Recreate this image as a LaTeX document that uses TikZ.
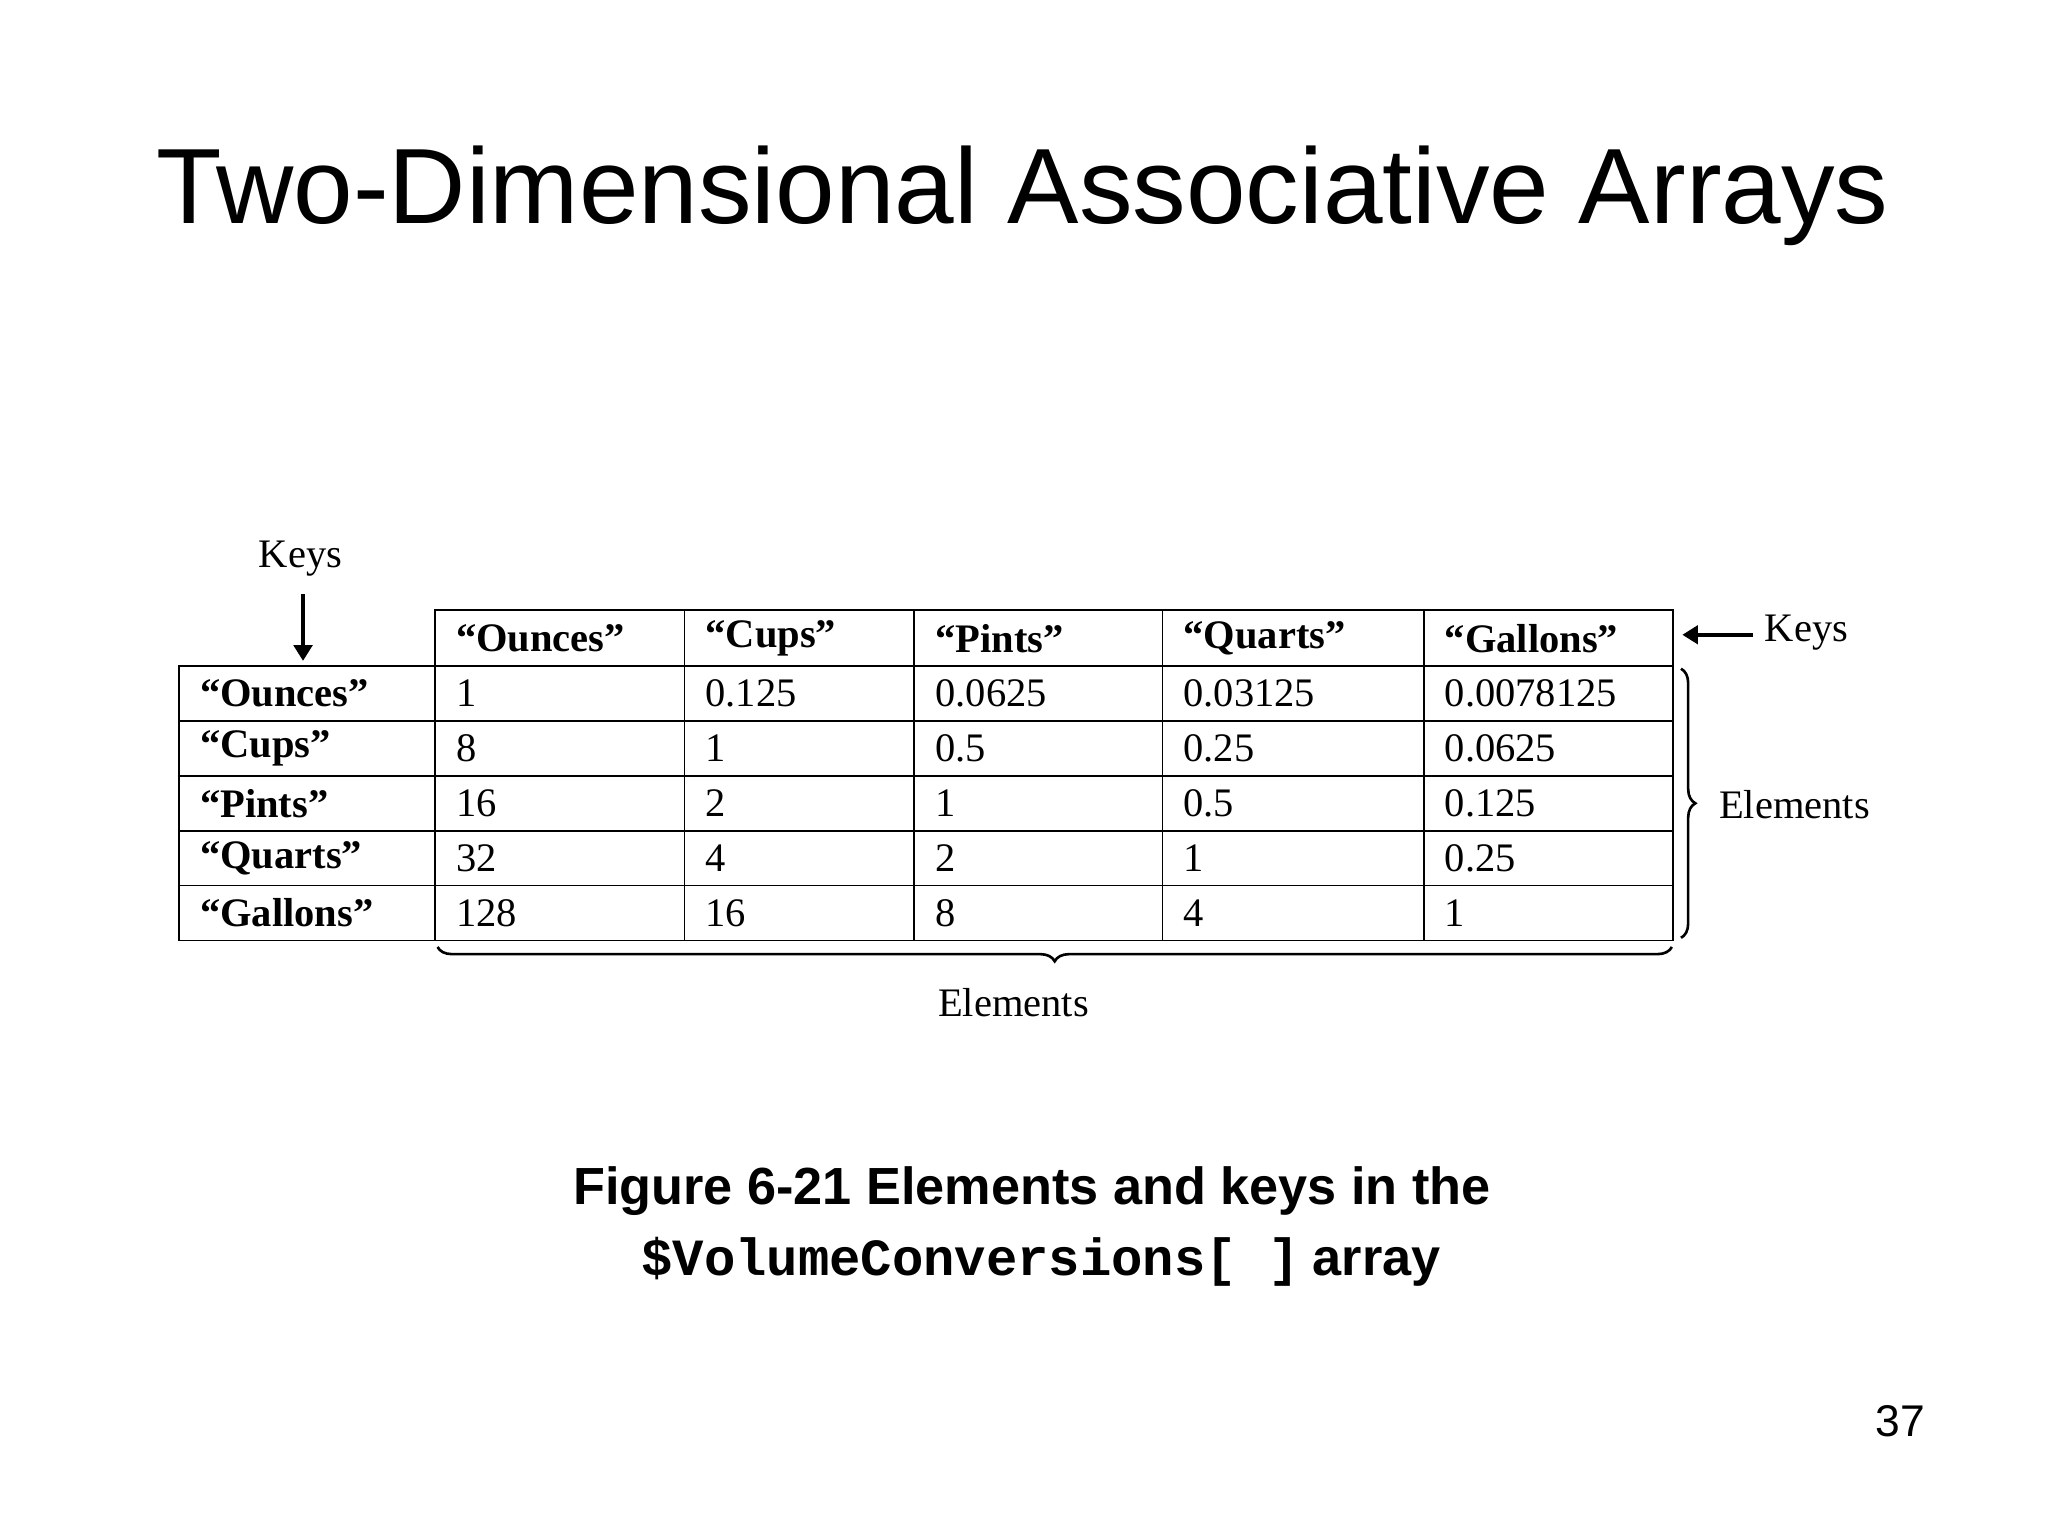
\documentclass[tikz,border=0pt]{standalone}
\usepackage{fontspec}
\setmainfont{Liberation Serif}
\newfontfamily\arialf{Liberation Sans}
\newfontfamily\courf{Liberation Mono}
\usetikzlibrary{decorations.pathreplacing,arrows.meta}
\begin{document}
\begin{tikzpicture}[x=1pt,y=-1pt,
  cell/.style={anchor=west,inner sep=0pt,font=\fontsize{31}{31}\selectfont},
  hcell/.style={cell,font=\fontsize{31}{31}\selectfont\bfseries},
  grid/.style={line width=1.3pt},
  arr/.style={line width=3pt,-{Triangle[length=12pt,width=14pt]}},
  br/.style={line width=2pt,decorate,decoration={brace,amplitude=11pt}},
  lbl/.style={inner sep=0pt,font=\fontsize{31}{31}\selectfont}]
\useasboundingbox (0,0) rectangle (1568,1176);
\node[font=\arialf\fontsize{82}{82}\selectfont] (title) at (783,150) {Two-Dimensional Associative Arrays};
% grid
\draw[grid] (333,467) rectangle (1281,720);
\draw[grid] (137,510) rectangle (333,720);
\foreach \y in {510,552,594,636,678} \draw[grid] (137,\y) -- (1281,\y);
\foreach \x in {524,700,890,1090} \draw[grid] (\x,467) -- (\x,720);
% header
\foreach \t [count=\i] / \x in {“Ounces”/349,“Cups”/540,“Pints”/716,“Quarts”/906,“Gallons”/1106}
  \node[hcell] (h\i) at (\x,489) {\t};
% row keys
\foreach \t [count=\i] in {“Ounces”,“Cups”,“Pints”,“Quarts”,“Gallons”}
  \node[hcell] (k\i) at (153,510+42*\i-21) {\t};
% values
\foreach \r [count=\i] in {{1,0.125,0.0625,0.03125,0.0078125},{8,1,0.5,0.25,0.0625},{16,2,1,0.5,0.125},{32,4,2,1,0.25},{128,16,8,4,1}}{
  \foreach \v [count=\j] in \r {
    \pgfmathsetmacro{\xx}{{349,540,716,906,1106}[\j-1]}
    \node[cell] (c\i\j) at (\xx,510+42*\i-21) {\v};
  }
}
% keys labels
\node[lbl] (keysl) at (230,428) {Keys};
\coordinate (kl1) at (232,455);
\coordinate (kl2) at (232,506);
\draw[arr] (kl1) -- (kl2);
\node[lbl,anchor=west] (keysr) at (1351,484) {Keys};
\coordinate (kr1) at (1342,486);
\coordinate (kr2) at (1288,486);
\draw[arr] (kr1) -- (kr2);
% braces
\coordinate (b1) at (1287,512);
\coordinate (b2) at (1287,718);
\draw[br] (b1) -- (b2);
\node[lbl,anchor=west] (elr) at (1316,616) {Elements};
\coordinate (b3) at (1280,725);
\coordinate (b4) at (335,725);
\draw[br] (b3) -- (b4);
\node[lbl] (elb) at (776,768) {Elements};
% caption
\node[font=\arialf\bfseries\fontsize{40}{40}\selectfont] (cap1) at (790,912) {Figure 6-21 Elements and keys in the};
\node[font=\fontsize{40}{40}\selectfont] (cap2) at (797,966) {{\courf\bfseries \$VolumeConversions[ ]} {\arialf\bfseries array}};
\node[font=\arialf\fontsize{34}{34}\selectfont] (pg) at (1455,1088) {37};
\end{tikzpicture}
\end{document}
